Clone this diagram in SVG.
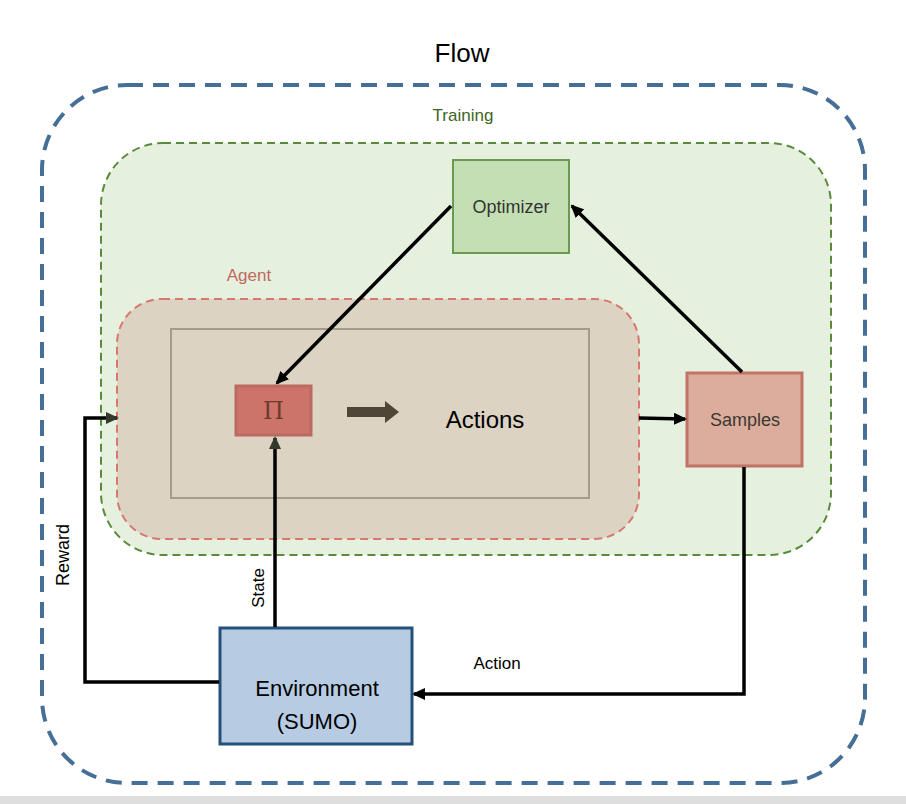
<svg xmlns="http://www.w3.org/2000/svg" width="906" height="804" viewBox="0 0 906 804">
<style>
  .t { font-family: "Liberation Sans", Arial, sans-serif; text-anchor: middle; }
  .conn { fill: none; stroke: #000; stroke-width: 3.5; }
</style>
<defs>
  <marker id="ah" markerWidth="13" markerHeight="12" refX="11" refY="6" orient="auto" markerUnits="userSpaceOnUse" viewBox="0 0 13 12">
    <path d="M0,0 L13,6 L0,12 z" fill="#000"/>
  </marker>
  <marker id="ahd" markerWidth="13" markerHeight="12" refX="11" refY="6" orient="auto" markerUnits="userSpaceOnUse" viewBox="0 0 13 12">
    <path d="M0,0 L13,6 L0,12 z" fill="#333a2c"/>
  </marker>
</defs>
<rect x="0" y="0" width="906" height="804" fill="#fff"/>
<rect x="0" y="796" width="906" height="8" fill="#dedede"/>

<g id="flow">
  <rect x="42" y="85" width="823" height="698" rx="85" ry="85" fill="none" stroke="#466f97" stroke-width="4" stroke-dasharray="16 10"/>
  <text class="t" x="462" y="62" font-size="26" fill="#000">Flow</text>
</g>

<g id="training">
  <rect x="101" y="143" width="730" height="412" rx="62" ry="62" fill="#e6f0df" stroke="#5a8a3a" stroke-width="2" stroke-dasharray="8 5"/>
  <text class="t" x="463" y="121" font-size="17" fill="#3e6520">Training</text>
</g>

<g id="agent">
  <rect x="117" y="299" width="522" height="240" rx="45" ry="45" fill="#dcd3c3" stroke="#d9776d" stroke-width="2" stroke-dasharray="8 5"/>
  <text class="t" x="249" y="281" font-size="17" fill="#c06a60">Agent</text>
  <rect x="171" y="329" width="418" height="169" fill="none" stroke="#a39b8b" stroke-width="2"/>
</g>

<g id="pi">
  <rect x="236" y="386" width="75" height="49" fill="#cc746a" stroke="#bb6a60" stroke-width="3"/>
  <text x="273.5" y="419" font-family="'DejaVu Serif', 'Liberation Serif', serif" font-size="24" text-anchor="middle" fill="#6e3a2e">Π</text>
</g>

<g id="actions">
  <path d="M347,407 L385,407 L385,401 L399,412 L385,423 L385,417 L347,417 z" fill="#4f4638"/>
  <text class="t" x="485" y="428" font-size="24" fill="#000">Actions</text>
</g>

<g id="optimizer">
  <rect x="453" y="160" width="116" height="93" fill="#c5dfb5" stroke="#6a9a50" stroke-width="2"/>
  <text class="t" x="511" y="213" font-size="18" fill="#333">Optimizer</text>
</g>

<g id="samples">
  <rect x="687" y="373" width="115" height="93" fill="#dcac9c" stroke="#c07366" stroke-width="3"/>
  <text class="t" x="745" y="426" font-size="18" fill="#3a3a30">Samples</text>
</g>

<g id="environment">
  <rect x="220" y="628" width="192" height="116" fill="#b7cce2" stroke="#24507a" stroke-width="3"/>
  <text class="t" x="317" y="696" font-size="22" fill="#000">Environment</text>
  <text class="t" x="317" y="729" font-size="22" fill="#000">(SUMO)</text>
</g>

<g id="connectors">
  <line class="conn" x1="451" y1="206" x2="277" y2="383" marker-end="url(#ah)"/>
  <line class="conn" x1="742" y1="372" x2="572" y2="206" marker-end="url(#ah)"/>
  <line class="conn" x1="639" y1="418" x2="685" y2="419" marker-end="url(#ah)"/>
  <polyline class="conn" points="744,467 744,694 414,694" marker-end="url(#ah)"/>
  <line class="conn" x1="275" y1="627" x2="275" y2="438" stroke="#2e2a22" marker-end="url(#ahd)"/>
  <polyline class="conn" points="219,682 85,682 85,418 117,418" marker-end="url(#ahd)"/>
  <text class="t" x="0" y="0" font-size="18" fill="#000" transform="translate(69,555) rotate(-90)">Reward</text>
  <text class="t" x="0" y="0" font-size="17" fill="#000" transform="translate(264,588) rotate(-90)">State</text>
  <text class="t" x="497" y="669" font-size="17" fill="#000">Action</text>
</g>
</svg>
